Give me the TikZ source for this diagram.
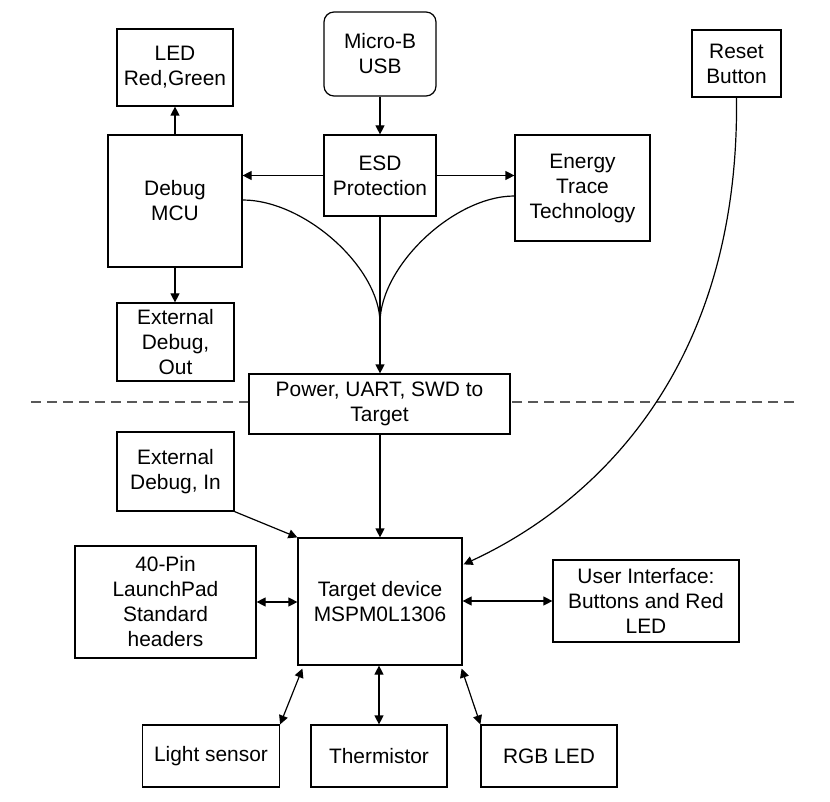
\documentclass[tikz,border=0pt]{standalone}
\usepackage{fontspec}
\setmainfont{Liberation Sans}
\usetikzlibrary{arrows.meta,calc}
\newcommand\diafont{\fontsize{20.9pt}{25pt}\selectfont}
\begin{document}
\begin{tikzpicture}[x=1pt,y=-1pt,
  blk/.style={draw,line width=1.2pt,inner sep=0pt,align=center,font=\diafont},
  arr/.style={line width=1.2pt,-{Triangle[length=9pt,width=9pt]}},
  darr/.style={line width=1.2pt,{Triangle[length=9pt,width=9pt]}-{Triangle[length=9pt,width=9pt]}},
  ln/.style={line width=1.2pt},
  dashline/.style={line width=1.4pt,draw=black!65,dash pattern=on 10pt off 6pt}]
\useasboundingbox (0,0) rectangle (830,802);
\node[blk,minimum width=116pt,minimum height=77pt] (led) at (175,67.5) {LED\\Red,Green};
\node[blk,minimum width=134pt,minimum height=132pt] (debug) at (175,201) {Debug\\MCU};
\node[blk,rounded corners=10pt,minimum width=112pt,minimum height=84pt] (usb) at (380,54) {Micro-B\\USB};
\node[blk,minimum width=112pt,minimum height=81pt] (esd) at (380,175.5) {ESD\\Protection};
\node[blk,minimum width=135pt,minimum height=106pt] (energy) at (582.5,188) {Energy\\Trace\\Technology};
\node[blk,minimum width=89pt,minimum height=67pt] (reset) at (736.5,63.5) {Reset\\Button};
\node[blk,minimum width=117pt,minimum height=78pt] (extout) at (175.5,342) {External\\Debug,\\Out};
\node[blk,minimum width=261pt,minimum height=60pt] (power) at (379.5,404) {Power, UART, SWD to\\Target};
\node[blk,minimum width=117pt,minimum height=79pt] (extin) at (175.5,471.5) {External\\Debug, In};
\node[blk,minimum width=164pt,minimum height=127pt] (target) at (380,601.5) {Target device\\MSPM0L1306};
\node[blk,minimum width=181pt,minimum height=112pt] (pin) at (165.5,602) {40-Pin\\LaunchPad\\Standard\\headers};
\node[blk,minimum width=186pt,minimum height=82pt] (ui) at (646,601) {User Interface:\\Buttons and Red\\LED};
\node[blk,minimum width=137pt,minimum height=62pt] (light) at (211,756) {Light sensor};
\node[blk,minimum width=136pt,minimum height=62pt] (therm) at (379,756) {Thermistor};
\node[blk,minimum width=136pt,minimum height=62pt] (rgb) at (549,756) {RGB LED};
\coordinate (merge) at (380,323);
\coordinate (dl) at (31,402);
\coordinate (dr) at (794,402);
% dashed boundary
\draw[dashline] (dl) -- (dl -| power.west);
\draw[dashline] (dr) -- (dr -| power.east);
% connectors
\draw[arr] (usb.south) -- (esd.north);
\draw[arr] (esd.west) -- (esd.west -| debug.east);
\draw[arr] (esd.east) -- (esd.east -| energy.west);
\draw[arr] (debug.north) -- (led.south);
\draw[arr] (debug.south) -- (debug.south |- extout.north);
\draw[arr] (esd.south) -- (esd.south |- power.north);
\draw[ln] ([yshift=1pt]debug.east) .. controls (305,200) and (380,268) .. (merge);
\draw[ln] ([yshift=-8pt]energy.west) .. controls (454,196) and (380,266) .. (merge);
\draw[arr] (power.south -| target.north) -- (target.north);
\draw[arr] (extin.south east) -- (target.north west);
\draw[arr] (reset.south) .. controls (740,400) and (560,520) .. ([xshift=1pt,yshift=-27pt]target.north east);
\draw[darr] (pin.east) -- (pin.east -| target.west);
\draw[darr] (ui.west) -- (ui.west -| target.east);
\draw[darr] (light.north east) -- ([xshift=5pt,yshift=-3pt]target.south west);
\draw[darr] (therm.north) -- (therm.north |- target.south);
\draw[darr] (rgb.north west) -- ([xshift=-1pt,yshift=-3pt]target.south east);
\end{tikzpicture}
\end{document}
